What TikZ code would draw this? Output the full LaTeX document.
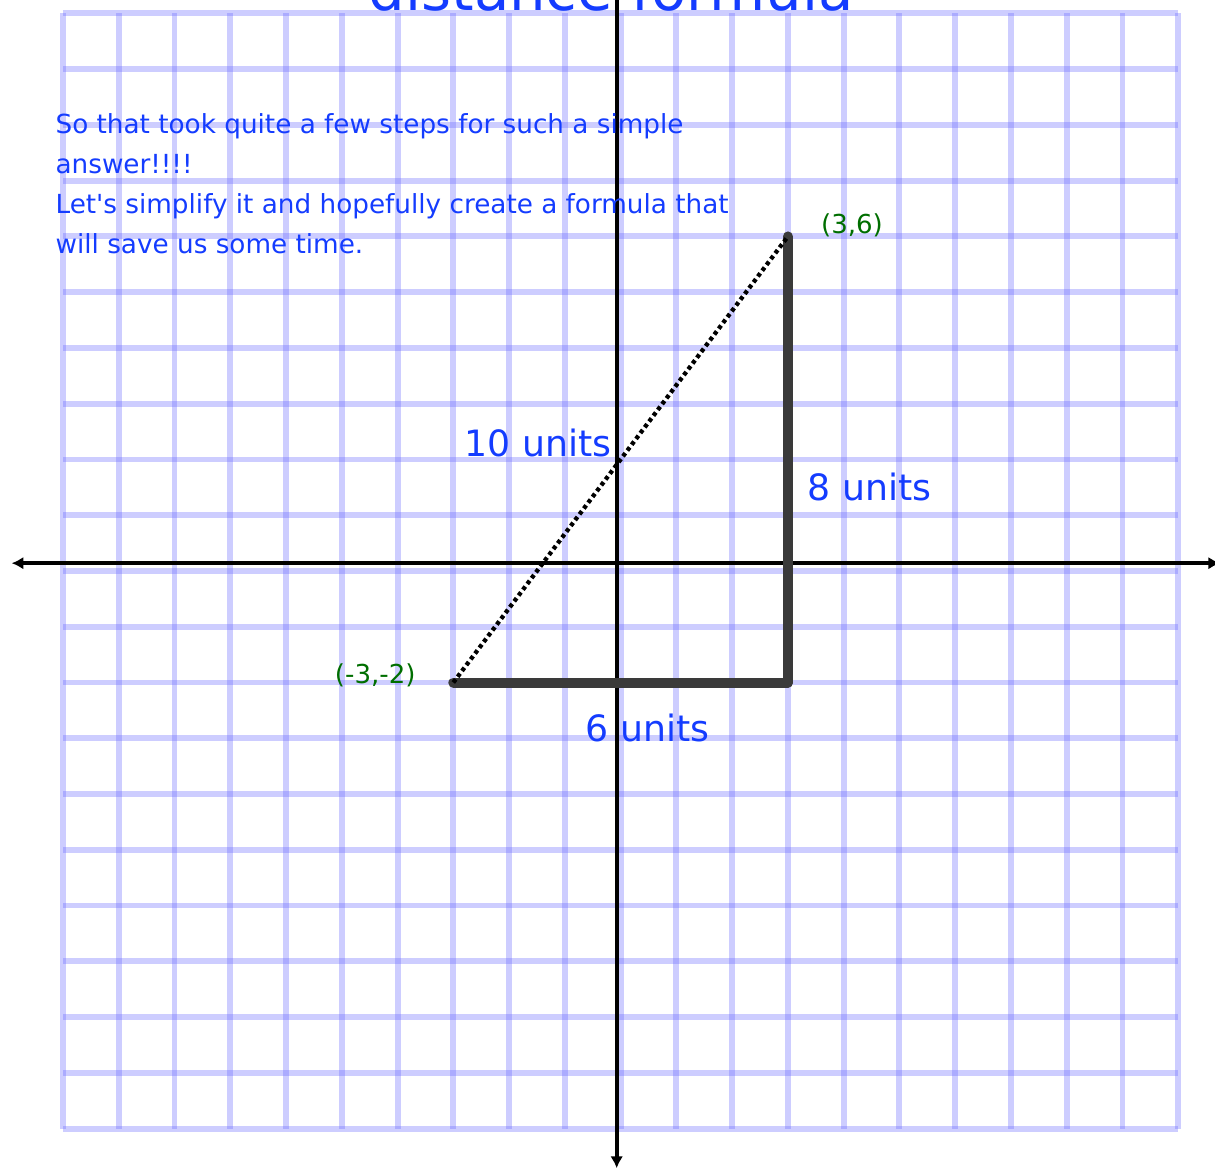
\documentclass[tikz,border=0pt]{standalone}
\usepackage{fontspec}
\setmainfont{DejaVu Sans}
\usepackage{tikz}
\usetikzlibrary{positioning,arrows.meta}
\usepackage{xcolor}
\definecolor{inkblue}{RGB}{20,60,255}
\definecolor{inkgreen}{RGB}{0,110,0}
\definecolor{gridblue}{RGB}{102,102,255}
\definecolor{sidegray}{RGB}{58,58,58}

\begin{document}
\begin{tikzpicture}[>={Latex[length=6pt,width=6.5pt]},
    gridline/.style={draw=gridblue, opacity=0.33, line width=3pt},
    axis/.style={draw=black, line width=2.1pt, <->},
    side/.style={draw=sidegray, line width=5.1pt, line cap=round, line join=round},
    hyp/.style={draw=black, line width=2.2pt, dash pattern=on 2pt off 1.7pt},
    note/.style={text=inkblue, font=\fontsize{13.4}{20.4}\selectfont, align=left, inner sep=0pt},
    unitlabel/.style={text=inkblue, font=\fontsize{18.5}{22}\selectfont, inner sep=0pt},
    pointlabel/.style={text=inkgreen, font=\fontsize{13.3}{16}\selectfont, inner sep=0pt}]

\useasboundingbox (-11.13,-10.76) rectangle (10.66,10.24);

% grid paper
\foreach \i in {-10,...,10} {
  \draw[gridline] (\i,-10) -- (\i,10);
  \draw[gridline] (-10,\i) -- (10,\i);
}

% axes
\coordinate (xleft) at (-10.92,0.14);
\coordinate (xright) at (10.75,0.14);
\coordinate (ytop) at (-0.07,10.8);
\coordinate (ybottom) at (-0.07,-10.71);
\draw[axis] (xleft) -- (xright);
\draw[axis] (ytop) -- (ybottom);

% title, cut off at the top
\node[text=inkblue, font=\fontsize{29.4}{34}\selectfont, anchor=base, inner sep=0pt] (title) at (-0.17,10.05) {distance formula};

% base of a multi-line node is its last line
\node[note, anchor=base west] (intro) at (-10.14,5.70) {So that took quite a few steps for such a simple\\answer!!!!\\Let\textquotesingle s simplify it and hopefully create a formula that\\will save us some time.};

% the two points and the corner
\coordinate (P) at (-3,-2);
\coordinate (Q) at (3,6);
\coordinate (R) at (3,-2);

\draw[side] (P) -- (R) -- (Q);
\draw[hyp] (P) -- (Q);

\node[pointlabel, anchor=base] (qlab) at (4.15,6.06) {(3,6)};
\node[pointlabel, anchor=base] (plab) at (-4.40,-2.01) {(-3,-2)};

\node[unitlabel, anchor=base] (hyplab) at (-1.48,2.06) {10 units};
\node[unitlabel, anchor=base] (vertlab) at (4.47,1.27) {8 units};
\node[unitlabel, anchor=base] (horlab) at (0.48,-3.05) {6 units};

\end{tikzpicture}
\end{document}
